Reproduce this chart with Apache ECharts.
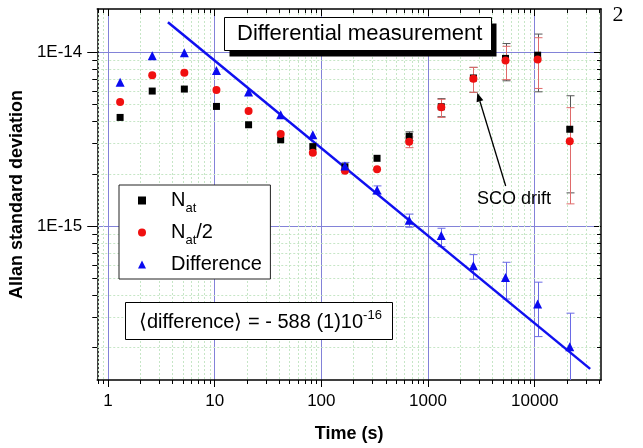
<!DOCTYPE html>
<html><head><meta charset="utf-8">
<script src="https://cdn.jsdelivr.net/npm/echarts@6/dist/echarts.min.js"></script>
<style>html,body{margin:0;padding:0;background:#fff}#c{width:643px;height:448px}</style>
</head><body><div id="c"></div>
<script>
// ---- data ----
const times = [1.3, 2.6, 5.2, 10.4, 20.8, 41.6, 83.2, 166.4, 332.8, 665.6, 1331, 2662, 5325, 10650, 21300];
const nat = [4.21e-15, 5.97e-15, 6.13e-15, 4.87e-15, 3.82e-15, 3.13e-15, 2.86e-15, 2.19e-15, 2.45e-15, 3.28e-15, 4.85e-15, 7.1e-15, 9.2e-15, 9.6e-15, 3.6e-15];
const natHalf = [5.16e-15, 7.35e-15, 7.6e-15, 6.05e-15, 4.58e-15, 3.38e-15, 2.64e-15, 2.08e-15, 2.12e-15, 3.05e-15, 4.81e-15, 7.03e-15, 8.96e-15, 9.08e-15, 3.07e-15];
const diff = [6.7e-15, 9.52e-15, 9.91e-15, 7.85e-15, 5.89e-15, 4.36e-15, 3.35e-15, 2.21e-15, 1.61e-15, 1.08e-15, 8.8e-16, 5.91e-16, 5.05e-16, 3.56e-16, 2.02e-16];

const natLow  = [null, null, null, null, null, null, null, null, null, 3.1e-15, 4.25e-15, 5.87e-15, 6.84e-15, 5.91e-15, 1.55e-15];
const natHigh = [null, null, null, null, null, null, null, null, null, 3.48e-15, 5.4e-15, 8.17e-15, 1.12e-14, 1.27e-14, 5.61e-15];
const halfLow  = [null, null, null, null, null, null, null, null, null, 2.82e-15, 4.21e-15, 5.87e-15, 6.95e-15, 6.18e-15, 1.34e-15];
const halfHigh = [null, null, null, null, null, null, null, null, null, 3.25e-15, 5.35e-15, 8.17e-15, 1.08e-14, 1.21e-14, 4.79e-15];
const diffLow  = [null, null, null, null, null, null, null, 2.1e-15, 1.53e-15, 9.83e-16, 7.6e-16, 4.94e-16, 3.8e-16, 2.31e-16, 1.0e-16];
const diffHigh = [null, null, null, null, null, null, null, 2.32e-15, 1.70e-15, 1.17e-15, 9.7e-16, 6.84e-16, 6.18e-16, 4.75e-16, 3.15e-16];

const fitX = [3.65, 33100];
const fitY = [1.486e-14, 1.507e-16];

const xMajor = [1, 10, 100, 1000, 10000];
const xMajorLabels = ['1', '10', '100', '1000', '10000'];
const yMajor = [1e-15, 1e-14];
const yMajorLabels = ['1E-15', '1E-14'];
const xMinor = [0.8, 0.9, 2, 3, 4, 5, 6, 7, 8, 9, 20, 30, 40, 50, 60, 70, 80, 90,
  200, 300, 400, 500, 600, 700, 800, 900, 2000, 3000, 4000, 5000, 6000, 7000, 8000, 9000, 20000, 30000, 40000];
const yMinor = [2e-16, 3e-16, 4e-16, 5e-16, 6e-16, 7e-16, 8e-16, 9e-16,
  2e-15, 3e-15, 4e-15, 5e-15, 6e-15, 7e-15, 8e-15, 9e-15];

const seriesNames = ['N_at', 'N_at/2', 'Difference'];
// ---- end data ----

const FONT = '"Liberation Sans", Arial, sans-serif';
const X_MIN = 0.794, X_MAX = 41800, Y_MIN = 1.30e-16, Y_MAX = 1.77e-14;

function labelFor(v, vals, labels) {
  for (let i = 0; i < vals.length; i++) {
    if (Math.abs(Math.log10(v) - Math.log10(vals[i])) < 1e-6) return labels[i];
  }
  return '';
}

function pairs(xs, ys) { return xs.map((x, i) => [x, ys[i]]); }

function errData(lo, hi) {
  const out = [];
  times.forEach((t, i) => { if (lo[i] != null) out.push([t, lo[i], hi[i]]); });
  return out;
}

function errSeries(lo, hi, color, z) {
  return {
    type: 'custom', silent: true, z: z,
    data: errData(lo, hi),
    encode: { x: 0, y: [1, 2] },
    renderItem(params, api) {
      const cs = params.coordSys;
      const bottom = cs.y + cs.height;
      const p1 = api.coord([api.value(0), api.value(1)]);
      const p2 = api.coord([api.value(0), api.value(2)]);
      const x = Math.round(p1[0]) + 0.5;
      let yLo = p1[1], yHi = p2[1];
      const clipped = yLo > bottom;
      if (clipped) yLo = bottom;
      const w = 4;
      const ch = [
        { type: 'line', shape: { x1: x, y1: yLo, x2: x, y2: yHi }, style: { stroke: color, lineWidth: 1 } },
        { type: 'line', shape: { x1: x - w, y1: yHi, x2: x + w, y2: yHi }, style: { stroke: color, lineWidth: 1 } }
      ];
      if (!clipped) ch.push({ type: 'line', shape: { x1: x - w, y1: yLo, x2: x + w, y2: yLo }, style: { stroke: color, lineWidth: 1 } });
      return { type: 'group', children: ch };
    }
  };
}

const chart = echarts.init(document.getElementById('c'), null, { renderer: 'canvas' });

const option = {
  animation: false,
  backgroundColor: '#fff',
  textStyle: { fontFamily: FONT },
  grid: { left: 97, top: 9, right: 42, bottom: 68, show: false },
  legend: {
    data: seriesNames,
    orient: 'vertical',
    left: 119, top: 185,
    padding: [1, 5, 0, 19],
    itemGap: 3,
    itemWidth: 8, itemHeight: 8,
    backgroundColor: '#fff',
    borderColor: '#222', borderWidth: 1, borderRadius: 0,
    selectedMode: false,
    formatter: function (name) {
      if (name === 'N_at') return '{a|N}{s|at}';
      if (name === 'N_at/2') return '{a|N}{s|at}{b|/2}';
      return '{a|' + name + '}{s| }';
    },
    textStyle: {
      color: '#000', fontFamily: FONT,
      rich: {
        a: { fontSize: 20, lineHeight: 20, color: '#000', fontFamily: FONT, padding: [0, 0, 0, 20] },
        b: { fontSize: 20, lineHeight: 20, color: '#000', fontFamily: FONT },
        s: { fontSize: 13, lineHeight: 12, color: '#000', fontFamily: FONT, padding: [16, 0, 0, 0] }
      }
    }
  },
  xAxis: [
    {
      type: 'log', logBase: 10, min: X_MIN, max: X_MAX, position: 'bottom',
      axisLine: { show: true, lineStyle: { color: '#000', width: 1.5 } },
      axisTick: { show: true, inside: false, length: 7, customValues: xMajor, lineStyle: { color: '#000', width: 1 } },
      axisLabel: {
        show: true, customValues: xMajor, margin: 13, fontSize: 17, color: '#000', fontFamily: FONT,
        formatter: v => labelFor(v, xMajor, xMajorLabels)
      },
      splitLine: { show: true, lineStyle: { color: '#8282d8', width: 1 } },
      minorTick: { show: false }, minorSplitLine: { show: false },
      name: 'Time (s)', nameLocation: 'middle', nameGap: 45,
      nameTextStyle: { fontSize: 18, fontWeight: 'bold', color: '#000', fontFamily: FONT }
    },
    {
      type: 'log', logBase: 10, min: X_MIN, max: X_MAX, position: 'top',
      axisLine: { show: true, lineStyle: { color: '#000', width: 1.5 } },
      axisTick: { show: true, inside: true, length: 7, customValues: xMajor, lineStyle: { color: '#000', width: 1 } },
      axisLabel: { show: false },
      splitLine: { show: false }
    }
  ],
  yAxis: [
    {
      type: 'log', logBase: 10, min: Y_MIN, max: Y_MAX, position: 'left',
      axisLine: { show: true, lineStyle: { color: '#000', width: 1.5 } },
      axisTick: { show: true, inside: false, length: 10, customValues: yMajor, lineStyle: { color: '#000', width: 1 } },
      axisLabel: {
        show: true, customValues: yMajor, margin: 15, fontSize: 17, color: '#000', fontFamily: FONT,
        formatter: v => labelFor(v, yMajor, yMajorLabels)
      },
      splitLine: { show: true, lineStyle: { color: '#8282d8', width: 1 } },
      name: 'Allan standard deviation', nameLocation: 'middle', nameGap: 63,
      nameTextStyle: { fontSize: 18, fontWeight: 'bold', color: '#000', fontFamily: FONT }
    },
    {
      type: 'log', logBase: 10, min: Y_MIN, max: Y_MAX, position: 'right',
      axisLine: { show: true, lineStyle: { color: '#000', width: 1.5 } },
      axisTick: { show: true, inside: true, length: 7, customValues: yMajor, lineStyle: { color: '#000', width: 1 } },
      axisLabel: { show: false },
      splitLine: { show: false }
    }
  ],
  series: [
    {
      type: 'custom', silent: true, z: 1,
      data: xMinor.map(v => [v, 1e-15]),
      renderItem(params, api) {
        const cs = params.coordSys;
        const x = Math.round(api.coord([api.value(0), api.value(1)])[0]) + 0.5;
        const top = cs.y, bot = cs.y + cs.height;
        return { type: 'group', children: [
          { type: 'line', shape: { x1: x, y1: top, x2: x, y2: bot }, style: { stroke: '#c6e6c6', lineWidth: 1, lineDash: [2, 2] } },
          { type: 'line', shape: { x1: x, y1: bot, x2: x, y2: bot + 4 }, style: { stroke: '#000', lineWidth: 1 } },
          { type: 'line', shape: { x1: x, y1: top, x2: x, y2: top + 4 }, style: { stroke: '#000', lineWidth: 1 } }
        ] };
      }
    },
    {
      type: 'custom', silent: true, z: 1,
      data: yMinor.map(v => [10, v]),
      renderItem(params, api) {
        const cs = params.coordSys;
        const y = Math.round(api.coord([api.value(0), api.value(1)])[1]) + 0.5;
        const l = cs.x, r = cs.x + cs.width;
        return { type: 'group', children: [
          { type: 'line', shape: { x1: l, y1: y, x2: r, y2: y }, style: { stroke: '#c6e6c6', lineWidth: 1, lineDash: [2, 2] } },
          { type: 'line', shape: { x1: l - 5, y1: y, x2: l, y2: y }, style: { stroke: '#000', lineWidth: 1 } },
          { type: 'line', shape: { x1: r - 4, y1: y, x2: r, y2: y }, style: { stroke: '#000', lineWidth: 1 } }
        ] };
      }
    },
    errSeries(natLow, natHigh, '#555555', 3),
    errSeries(halfLow, halfHigh, '#e06a6a', 3),
    errSeries(diffLow, diffHigh, '#6a6ae6', 3),
    {
      name: 'fit', type: 'line', z: 4, silent: true,
      data: pairs(fitX, fitY), showSymbol: false, symbol: 'none',
      lineStyle: { color: '#1010f0', width: 2.5 }
    },
    {
      name: seriesNames[0], type: 'scatter', z: 5, symbol: 'rect', symbolSize: 7,
      itemStyle: { color: '#000', opacity: 1 }, data: pairs(times, nat)
    },
    {
      name: seriesNames[1], type: 'scatter', z: 6, symbol: 'circle', symbolSize: 8,
      itemStyle: { color: '#f01010', opacity: 1 }, data: pairs(times, natHalf)
    },
    {
      name: seriesNames[2], type: 'scatter', z: 7, symbol: 'triangle', symbolSize: 9,
      itemStyle: { color: '#0a0af0', opacity: 1 }, data: pairs(times, diff)
    }
  ],
  graphic: [
    { type: 'rect', z: 100, shape: { x: 229.5, y: 23.5, width: 267, height: 33 }, style: { fill: '#000' } },
    { type: 'rect', z: 101, shape: { x: 224.5, y: 17.5, width: 267, height: 33 }, style: { fill: '#fff', stroke: '#000', lineWidth: 1 } },
    { type: 'text', z: 102, style: { x: 237, y: 34, text: 'Differential measurement', fontSize: 22, fontFamily: FONT, fill: '#000', verticalAlign: 'middle', align: 'left' } },

    { type: 'rect', z: 100, shape: { x: 125.5, y: 302.5, width: 267, height: 37 }, style: { fill: '#fff', stroke: '#000', lineWidth: 1 } },
    { type: 'text', z: 102, style: {
      x: 139, y: 322, verticalAlign: 'middle', align: 'left',
      text: '{n|\u27E8difference\u27E9 = - 588 (1)10}{p|-16}',
      rich: {
        n: { fontSize: 20, lineHeight: 20, fontFamily: FONT, fill: '#000', color: '#000' },
        p: { fontSize: 13, lineHeight: 13, fontFamily: FONT, fill: '#000', color: '#000', padding: [0, 0, 13, 0] }
      }
    } },

    { type: 'text', z: 102, style: { x: 477, y: 199, text: 'SCO drift', fontSize: 18, fontFamily: FONT, fill: '#000', verticalAlign: 'middle', align: 'left' } },
    { type: 'line', z: 102, shape: { x1: 505.7, y1: 186, x2: 479.9, y2: 101.3 }, style: { stroke: '#000', lineWidth: 1.3 } },
    { type: 'polygon', z: 102, shape: { points: [[477.3, 92.7], [483.3, 100.3], [476.6, 102.3]] }, style: { fill: '#000' } },

    { type: 'text', z: 102, style: { x: 618, y: 15, text: '2', fontSize: 22, fontFamily: '"Liberation Serif", "DejaVu Serif", serif', fill: '#000', verticalAlign: 'middle', align: 'center' } }
  ]
};

chart.setOption(option);
</script>
</body></html>
